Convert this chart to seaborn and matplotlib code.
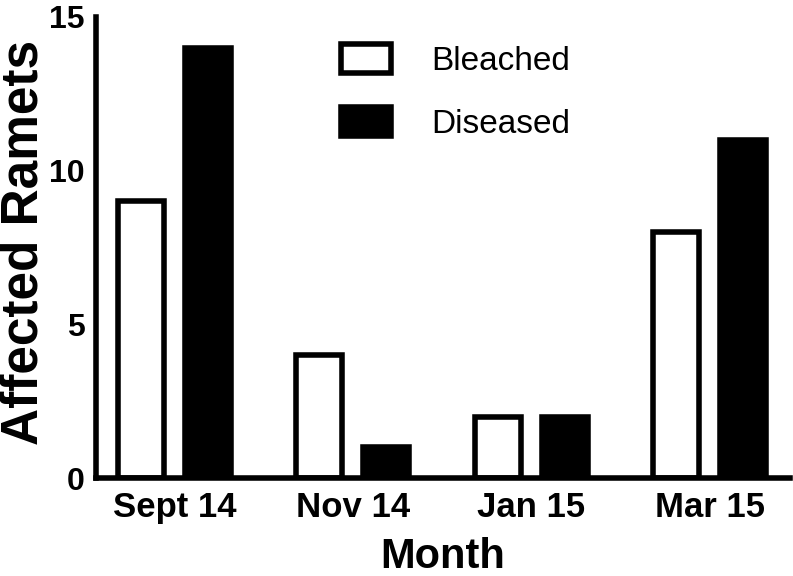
import matplotlib
matplotlib.use("Agg")
import matplotlib.pyplot as plt
import seaborn as sns
import pandas as pd

months = ["Sept 14", "Nov 14", "Jan 15", "Mar 15"]
bleached = [9, 4, 2, 8]
diseased = [14, 1, 2, 11]
series = ["Bleached", "Diseased"]
yticks = [0, 5, 10, 15]

df = pd.DataFrame({
    "Month": months * 2,
    "Count": bleached + diseased,
    "Status": [series[0]] * len(months) + [series[1]] * len(months),
})

sns.set_theme(style="ticks")
plt.rcParams["font.family"] = ["Liberation Sans", "DejaVu Sans"]

fig = plt.figure(figsize=(7.93, 5.76), dpi=100)
ax = fig.add_axes([0.121, 0.170, 0.875, 0.8005])

sns.barplot(data=df, x="Month", y="Count", hue="Status", order=months,
            hue_order=series, palette={"Bleached": "white", "Diseased": "black"},
            width=0.75, gap=0.31, edgecolor="black", linewidth=4,
            saturation=1, ax=ax, legend=True)

ax.set_xlim(-0.44, 3.45)
ax.set_ylim(0, 15)
ax.set_yticks(yticks)
ax.set_yticklabels([str(t) for t in yticks])
for s in ["top", "right"]:
    ax.spines[s].set_visible(False)
for s in ["left", "bottom"]:
    ax.spines[s].set_linewidth(4)
    ax.spines[s].set_color("black")
ax.tick_params(axis="both", length=0)
ax.tick_params(axis="x", pad=9, labelsize=25)
ax.tick_params(axis="y", pad=8, labelsize=23)
for lab in ax.get_xticklabels() + ax.get_yticklabels():
    lab.set_fontweight("bold")
    lab.set_color("black")

ax.set_xlabel("Month", fontsize=30, fontweight="bold", labelpad=10, color="black")
ax.set_ylabel("Affected Ramets", fontsize=37, fontweight="bold", color="black",
              va="center", ha="center")
ax.yaxis.set_label_coords(-0.104, 0.51)

handles, labels = ax.get_legend_handles_labels()
leg = ax.legend(handles, labels, frameon=False, loc="upper left",
                bbox_to_anchor=(341 / 793, 1 - 44 / 576), bbox_transform=fig.transFigure,
                fontsize=24, handlelength=1.5, handleheight=0.95,
                handletextpad=1.2, labelspacing=0.9, borderpad=0, borderaxespad=0)
for t in leg.get_texts():
    t.set_color("black")

fig.savefig("out.png", dpi=100)
